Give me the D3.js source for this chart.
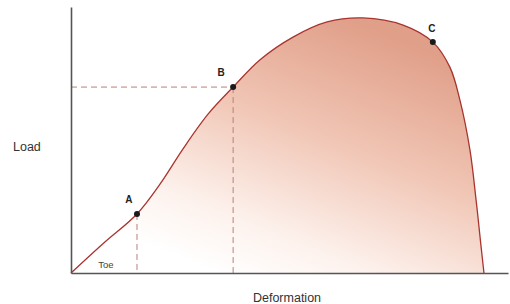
<!DOCTYPE html>
<html>
<head>
<meta charset="utf-8">
<script src="https://cdn.jsdelivr.net/npm/d3@7"></script>
<style>
  html, body { margin: 0; padding: 0; background: #fff; }
  svg { display: block; }
  text { font-family: "Liberation Sans", Arial, sans-serif; }
</style>
</head>
<body>
<script>
// ---- data (deformation / load in arbitrary units, 0-100) ----
const deformation = [0, 7.5, 15.1, 20.4, 25.6, 31.4, 37.1, 43.2, 50.8, 58.6, 66.8, 76.0, 82.8, 86.7, 89.0, 91.3, 92.7, 93.8, 94.5];
const load        = [0, 11.3, 22.2, 33.5, 46.6, 59.8, 69.9, 80.1, 88.7, 94.4, 95.9, 93.2, 86.8, 77.4, 65.0, 46.2, 27.4, 10.5, 0];
const pointNames  = ["A", "B", "C"];
const pointIndex  = [2, 6, 12];
const xLabel = "Deformation";
const yLabel = "Load";
const toeLabel = "Toe";

const W = 510, H = 304;
const svg = d3.select("body").append("svg").attr("width", W).attr("height", H);

const x = d3.scaleLinear().domain([0, 100]).range([71, 508]);
const y = d3.scaleLinear().domain([0, 100]).range([273, 7]);

const data = deformation.map((d, i) => ({ x: d, y: load[i] }));

// gradient
const defs = svg.append("defs");
const grad = defs.append("linearGradient")
  .attr("id", "fillGrad")
  .attr("gradientUnits", "userSpaceOnUse")
  .attr("x1", 215).attr("y1", 272)
  .attr("x2", 320).attr("y2", 8);
grad.append("stop").attr("offset", 0).attr("stop-color", "#ffffff");
grad.append("stop").attr("offset", 0.2).attr("stop-color", "#fdf2ed");
grad.append("stop").attr("offset", 0.6).attr("stop-color", "#f0c4b3");
grad.append("stop").attr("offset", 1).attr("stop-color", "#e09f89");

const line = d3.line().x(d => x(d.x)).y(d => y(d.y)).curve(d3.curveCatmullRom.alpha(0.5));

svg.append("path")
  .datum(data)
  .attr("d", line(data) + "Z")
  .attr("fill", "url(#fillGrad)")
  .attr("stroke", "none");

// dashed guide lines
const dashColor = "#b98078";
const A = data[pointIndex[0]], B = data[pointIndex[1]];
const g = svg.append("g").attr("stroke", dashColor).attr("stroke-width", 1).attr("stroke-dasharray", "6,4").attr("fill", "none");
g.append("line").attr("x1", x(0)).attr("y1", y(B.y)).attr("x2", x(B.x)).attr("y2", y(B.y));
g.append("line").attr("x1", x(B.x)).attr("y1", y(B.y)).attr("x2", x(B.x)).attr("y2", y(0));
g.append("line").attr("x1", x(A.x)).attr("y1", y(A.y)).attr("x2", x(A.x)).attr("y2", y(0));

// curve stroke
svg.append("path")
  .datum(data)
  .attr("d", line)
  .attr("fill", "none")
  .attr("stroke", "#a8342e")
  .attr("stroke-width", 1.3);

// axes (no ticks)
svg.append("g").attr("transform", `translate(0,${y(0)})`)
  .call(d3.axisBottom(x).tickValues([]).tickSizeOuter(0));
svg.append("g").attr("transform", `translate(${x(0)},0)`)
  .call(d3.axisLeft(y).tickValues([]).tickSizeOuter(0));
svg.selectAll(".domain").attr("stroke", "#555").attr("stroke-width", 1.6);

// points
const offsets = [[-8, -11], [-12, -11], [-1, -10]];
pointIndex.forEach((idx, i) => {
  const p = data[idx];
  svg.append("circle").attr("cx", x(p.x)).attr("cy", y(p.y)).attr("r", 3).attr("fill", "#1a1a1a");
  svg.append("text")
    .attr("x", x(p.x) + offsets[i][0])
    .attr("y", y(p.y) + offsets[i][1])
    .attr("text-anchor", "middle")
    .attr("font-size", 10)
    .attr("font-weight", "bold")
    .attr("fill", "#222")
    .text(pointNames[i]);
});

// labels
svg.append("text").attr("x", 106).attr("y", 268).attr("text-anchor", "middle")
  .attr("font-size", 9.5).attr("fill", "#444").text(toeLabel);
svg.append("text").attr("x", 13).attr("y", 151)
  .attr("font-size", 12.5).attr("fill", "#333").text(yLabel);
svg.append("text").attr("x", 287).attr("y", 302).attr("text-anchor", "middle")
  .attr("font-size", 12.5).attr("fill", "#333").text(xLabel);
</script>
</body>
</html>
